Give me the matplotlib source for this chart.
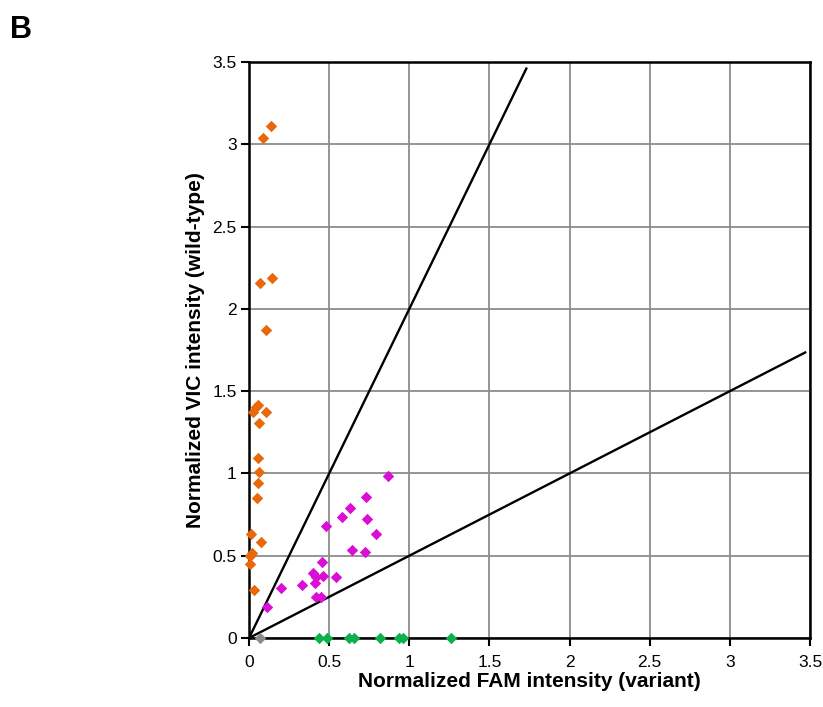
import matplotlib
matplotlib.use("Agg")
import matplotlib.pyplot as plt
import numpy as np

plt.rcParams['font.family'] = ['Liberation Sans', 'DejaVu Sans']

# wild-type calls (orange)
wt_fam = [0.087, 0.137, 0.068, 0.143, 0.106, 0.058, 0.041, 0.027, 0.106, 0.064,
          0.058, 0.064, 0.058, 0.052, 0.011, 0.073, 0.017, 0.006, 0.008, 0.031]
wt_vic = [3.04, 3.11, 2.16, 2.19, 1.87, 1.416, 1.405, 1.375, 1.375, 1.304,
          1.092, 1.01, 0.94, 0.849, 0.632, 0.581, 0.515, 0.50, 0.45, 0.292]

# heterozygous calls (magenta)
het_fam = [0.865, 0.727, 0.632, 0.580, 0.735, 0.478, 0.795, 0.644, 0.725, 0.458,
           0.396, 0.420, 0.462, 0.410, 0.545, 0.331, 0.199, 0.416, 0.452, 0.114]
het_vic = [0.984, 0.855, 0.788, 0.733, 0.721, 0.683, 0.634, 0.537, 0.522, 0.464,
           0.393, 0.372, 0.377, 0.336, 0.369, 0.322, 0.304, 0.251, 0.247, 0.190]

# variant calls (green)
var_fam = [0.435, 0.486, 0.623, 0.654, 0.820, 0.934, 0.959, 1.263]
var_vic = [0, 0, 0, 0, 0, 0, 0, 0]

# no-template (gray)
ntc_fam = [0.068]
ntc_vic = [0.0]

# cut-off lines
slopes = [2.0, 0.5]
line_ends = [1.73, 3.47]

fig = plt.figure(figsize=(8.23, 7.07), dpi=100)
ax = fig.add_axes([0.3026, 0.0976, 0.6816, 0.8147])

ax.set_xlim(0, 3.5)
ax.set_ylim(0, 3.5)
ticks = np.arange(0, 3.51, 0.5)
labels = ['0', '0.5', '1', '1.5', '2', '2.5', '3', '3.5']
ax.set_xticks(ticks)
ax.set_yticks(ticks)
ax.set_xticklabels(labels)
ax.set_yticklabels(labels)
ax.grid(True, color='#8c8c8c', linewidth=1.3)
ax.set_axisbelow(True)
for s in ax.spines.values():
    s.set_linewidth(1.8)
    s.set_color('black')
ax.tick_params(direction='out', length=6, width=1.5, labelsize=12.5)
ax.tick_params(axis='x', pad=6)
ax.tick_params(axis='y', pad=3)

for m, xe in zip(slopes, line_ends):
    xs = np.array([0, xe])
    ax.plot(xs, m * xs, color='black', linewidth=1.7, zorder=2)

kw = dict(marker='D', s=34, linewidths=0, zorder=3, clip_on=False)
ax.scatter(wt_fam, wt_vic, color='#e8680a', **kw)
ax.scatter(het_fam, het_vic, color='#d90fd4', **kw)
ax.scatter(var_fam, var_vic, color='#0cb04a', **kw)
ax.scatter(ntc_fam, ntc_vic, color='#8c8c8c', **kw)

ax.set_xlabel('Normalized FAM intensity (variant)', fontsize=15, fontweight='bold', labelpad=2)
ax.set_ylabel('Normalized VIC intensity (wild-type)', fontsize=15, fontweight='bold', labelpad=5)

fig.text(0.012, 0.958, 'B', fontsize=22, fontweight='bold', va='center', ha='left')

fig.savefig('out.png', dpi=100)
